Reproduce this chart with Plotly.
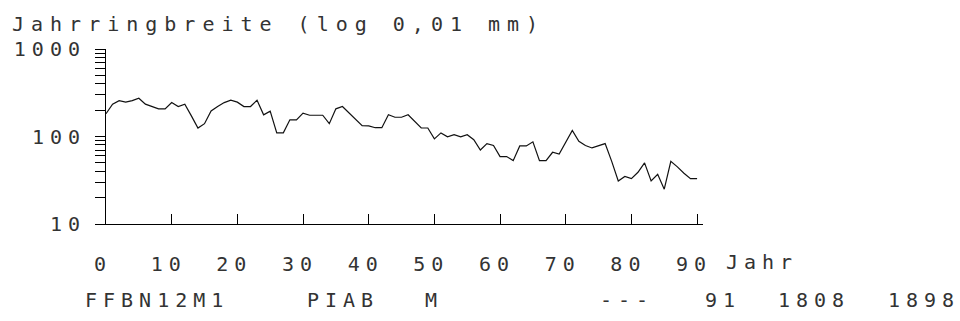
import plotly.graph_objects as go

# ---- data ----
years = list(range(0, 91))
ring_width = [182, 234, 257, 247, 257, 274, 234, 220, 207, 207,
              244, 220, 234, 172, 125, 140, 196, 220, 244, 260,
              247, 220, 220, 260, 177, 195, 110, 110, 155, 155,
              185, 175, 175, 175, 140, 207, 220, 185, 155, 133,
              132, 126, 126, 177, 166, 166, 177, 147, 125, 125,
              94, 110, 99, 105, 99, 105, 92, 70, 83, 79,
              59, 59, 53, 78, 78, 87, 53, 53, 66, 63,
              85, 117, 88, 79, 74, 78, 83, 52, 31, 35,
              33, 39, 50, 31, 37, 25, 52, 45, 38, 33, 33]

x_tickvals = [0, 10, 20, 30, 40, 50, 60, 70, 80, 90]
x_ticktext = ["0", "10", "20", "30", "40", "50", "60", "70", "80", "90"]
y_tickvals = [10, 20, 30, 40, 50, 60, 70, 80, 90,
              100, 200, 300, 400, 500, 600, 700, 800, 900, 1000]
y_ticktext = ["10", "", "", "", "", "", "", "", "",
              "100", "", "", "", "", "", "", "", "", "1000"]

title_text = "Jahrringbreite (log 0,01 mm)"
x_unit = "Jahr"
info_fields = ["FFBN12M1", "PIAB", "M", "---", "91", "1808", "1898"]
info_left = [83, 305, 423, 598, 703, 776, 886]

FONT = "DejaVu Sans Mono"
FS = 20
INK = "#333333"


def spaced(s, ls=6):
    return '<span style="letter-spacing:%gpx">%s</span>' % (ls, s)


fig = go.Figure()
fig.add_trace(go.Scatter(x=years, y=ring_width, mode="lines",
                         line=dict(color="#111111", width=1.2),
                         hoverinfo="x+y"))

W, H = 960, 321
ml, mr, mt, mb = 106, 257, 49, 97

fig.update_layout(
    template="none",
    width=W, height=H,
    margin=dict(l=ml, r=mr, t=mt, b=mb, pad=0, autoexpand=False),
    paper_bgcolor="white", plot_bgcolor="white",
    showlegend=False,
    font=dict(family=FONT, size=FS, color=INK),
)

fig.update_xaxes(
    automargin=False,
    range=[0, 90.9], showgrid=False, zeroline=False,
    showline=True, linecolor="black", linewidth=1,
    tickmode="array", tickvals=x_tickvals,
    ticktext=[spaced(t) for t in x_ticktext],
    ticks="inside", ticklen=10, tickcolor="black", tickwidth=1,
    ticklabelstandoff=22, ticklabelshift=-3,
    tickfont=dict(family=FONT, size=FS, color=INK),
)
fig.update_yaxes(
    automargin=False,
    type="log", range=[1, 3], showgrid=False, zeroline=False,
    showline=True, linecolor="black", linewidth=1,
    tickmode="array", tickvals=y_tickvals,
    ticktext=[spaced(t) if t else "" for t in y_ticktext],
    ticks="outside", ticklen=10, tickcolor="black", tickwidth=1,
    ticklabelstandoff=5,
    tickfont=dict(family=FONT, size=FS, color=INK),
)

annotations = [
    dict(text=spaced(title_text, 7), xref="paper", yref="paper",
         x=-(ml - 10) / (W - ml - mr), y=1 + (mt - 24) / (H - mt - mb),
         xanchor="left", yanchor="middle", showarrow=False,
         font=dict(family=FONT, size=FS, color=INK)),
    dict(text=spaced(x_unit), xref="x", yref="paper",
         x=x_tickvals[-1], y=-(262 - (H - mb)) / (H - mt - mb),
         xanchor="left", yanchor="middle", xshift=27, showarrow=False,
         font=dict(family=FONT, size=FS, color=INK)),
]
for txt, left in zip(info_fields, info_left):
    annotations.append(dict(
        text=spaced(txt), xref="paper", yref="paper",
        x=(left - ml) / (W - ml - mr), y=-(300 - (H - mb)) / (H - mt - mb),
        xanchor="left", yanchor="middle", showarrow=False,
        font=dict(family=FONT, size=FS, color=INK)))
fig.update_layout(annotations=annotations)

fig.write_html("out.html",
               config={"displayModeBar": False},
               post_script="document.body.style.margin='0';"
                           "document.body.style.overflow='hidden';")
